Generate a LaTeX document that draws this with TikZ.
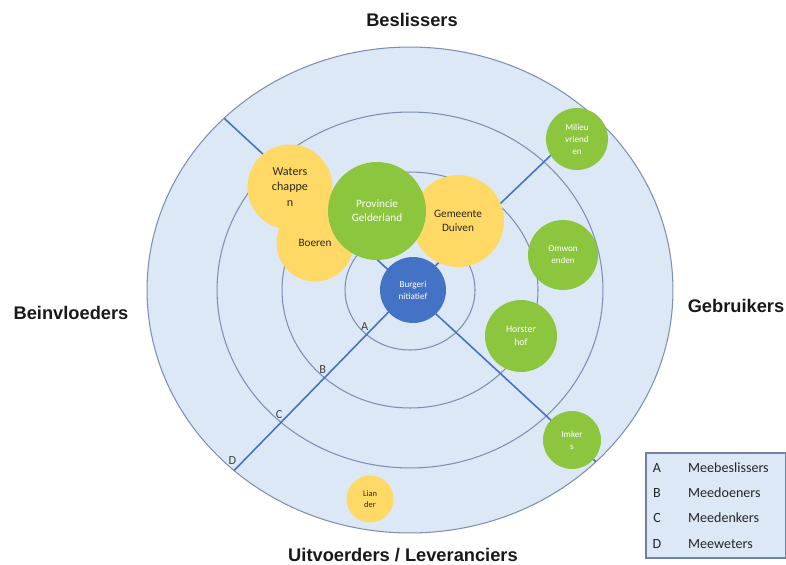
\documentclass[tikz,border=0pt]{standalone}
\usepackage{fontspec}
\setmainfont{Carlito}
\newfontfamily\kopfont{Liberation Sans}
\definecolor{ringvlak}{RGB}{220,232,245}
\definecolor{ringlijn}{RGB}{125,143,178}
\definecolor{straal}{RGB}{68,114,196}
\definecolor{geel}{RGB}{255,217,102}
\definecolor{groen}{RGB}{140,198,63}
\definecolor{blauw}{RGB}{68,114,196}
\definecolor{donker}{RGB}{45,40,25}
\tikzset{
  bol/.style={circle,inner sep=0pt,align=center,font=\fontsize{6.4}{8}\selectfont},
  geelbol/.style={bol,fill=geel,text=donker},
  groenbol/.style={bol,fill=groen,text=white},
  kleinbol/.style={font=\fontsize{5.2}{6.8}\selectfont},
  kop/.style={font=\kopfont\bfseries\fontsize{10.4}{12}\selectfont,text=black!90},
  letter/.style={font=\fontsize{7}{8}\selectfont,text=black!75,inner sep=2pt},
  ring/.style={draw=ringlijn,line width=0.6pt},
}
\begin{document}
\begin{tikzpicture}[x=0.02cm,y=0.02cm]
\useasboundingbox (0,0) rectangle (786,-564);
\coordinate (c) at (410,-290);
% ringen
\path[ring,fill=ringvlak] (c) ellipse [x radius=5.26cm,y radius=4.86cm];
\path[ring] (c) ellipse [x radius=3.86cm,y radius=3.56cm];
\path[ring] (c) ellipse [x radius=2.56cm,y radius=2.36cm];
\path[ring] (c) ellipse [x radius=1.30cm,y radius=1.20cm];
% stralen
\coordinate (lb) at ([shift={(135:5.26cm and 4.86cm)}]c);
\coordinate (rb) at ([shift={(46:5.26cm and 4.86cm)}]c);
\coordinate (ro) at ([shift={(-45:5.26cm and 4.86cm)}]c);
\coordinate (lo) at ([shift={(228:5.26cm and 4.86cm)}]c);
\draw[straal,line width=0.9pt] (c)--(lb) (c)--(rb) (c)--(ro) (c)--(lo);
\node[letter,above,xshift=-1pt] (la) at ([shift={(228:1.30cm and 1.20cm)}]c) {A};
\node[letter,above,xshift=-1pt] (lb2) at ([shift={(228:2.56cm and 2.36cm)}]c) {B};
\node[letter,above,xshift=-1pt] (lc) at ([shift={(228:3.86cm and 3.56cm)}]c) {C};
\node[letter,above,xshift=-1pt,yshift=1pt] (ld) at (lo) {D};
% bollen
\node[geelbol,minimum size=1.54cm] (boeren) at (315,-243) {Boeren};
\node[geelbol,minimum size=1.7cm,font=\fontsize{6.9}{9}\selectfont] (water) at (290,-187) {Waters\\chappe\\n};
\node[geelbol,minimum size=1.84cm] (gemeente) at (458,-221) {Gemeente\\Duiven};
\node[groenbol,minimum size=1.96cm] (provincie) at (377,-211) {Provincie\\Gelderland};
\node[bol,kleinbol,fill=blauw,text=white,minimum size=1.32cm] (burger) at (413,-290) {Burgeri\\nitiatief};
\node[groenbol,kleinbol,minimum size=1.24cm] (milieu) at (577,-139) {Milieu\\vriend\\en};
\node[groenbol,kleinbol,minimum size=1.4cm] (omwon) at (563,-255) {Omwon\\enden};
\node[groenbol,kleinbol,font=\fontsize{5.6}{7}\selectfont,minimum size=1.44cm] (horster) at (521,-336) {Horster\\hof};
\node[groenbol,kleinbol,minimum size=1.16cm] (imkers) at (572,-440) {Imker\\s};
\node[geelbol,font=\fontsize{4.8}{6.5}\selectfont,minimum size=0.94cm] (liander) at (370,-499) {Lian\\der};
% koppen
\node[kop] (beslissers) at (412,-20) {Beslissers};
\node[kop] (beinvloeders) at (71,-313) {Beinvloeders};
\node[kop] (gebruikers) at (736,-306) {Gebruikers};
\node[kop] (uitvoerders) at (403,-555) {Uitvoerders / Leveranciers};
% legenda
\node[draw=ringlijn!90!black,fill=ringvlak,line width=0.7pt,minimum width=2.8cm,minimum height=2.1cm] (legenda) at (716,-505.5) {};
\foreach \l/\t/\y in {A/Meebeslissers/468,B/Meedoeners/493,C/Meedenkers/518,D/Meeweters/544}{
  \node[font=\fontsize{8}{9}\selectfont,text=black!85] (l\l) at (657,-\y) {\l};
  \node[font=\fontsize{8}{9}\selectfont,text=black!85,anchor=west] (t\l) at (682,-\y) {\t};
}
\end{tikzpicture}
\end{document}
